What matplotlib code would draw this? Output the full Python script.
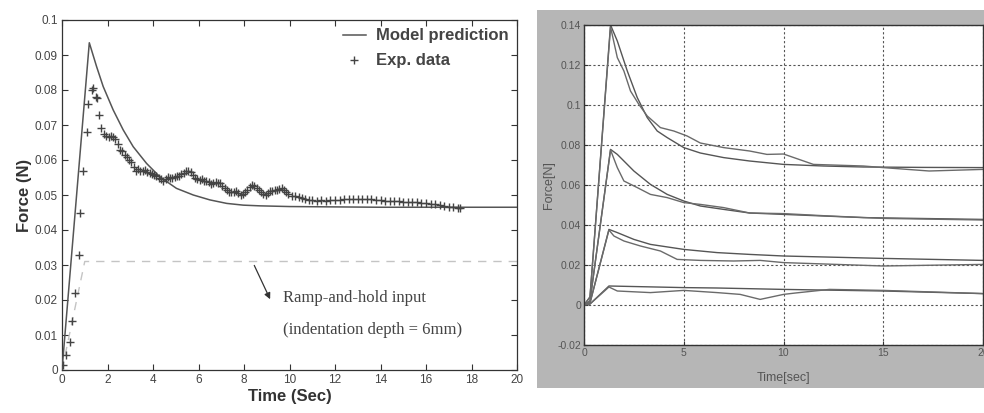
import matplotlib
matplotlib.use("Agg")
import matplotlib.pyplot as plt
from matplotlib.patches import Rectangle

# ---------------- Left panel data ----------------
model_t = [0, 1.2, 1.52, 1.81, 2.25, 2.69, 3.13, 3.72, 4.3, 5.03, 5.77, 6.5, 7.24, 7.97, 8.7, 10, 12, 14, 16, 18, 20]
model_f = [0, 0.0935, 0.0867, 0.081, 0.0743, 0.0686, 0.0638, 0.059, 0.0552, 0.0519, 0.0500, 0.0486, 0.0476,
           0.0471, 0.0469, 0.0467, 0.0466, 0.0465, 0.0465, 0.0465, 0.0465]

exp_t = [0.04, 0.19, 0.34, 0.45, 0.56, 0.73, 0.79, 0.94, 1.10, 1.16, 1.32, 1.38, 1.50, 1.56, 1.63, 1.73,
         1.85, 1.95, 2.05, 2.15, 2.25, 2.35, 2.45, 2.55, 2.65, 2.75, 2.85, 2.95, 3.05, 3.15, 3.25, 3.35,
         3.45, 3.55, 3.65, 3.75, 3.85, 3.95, 4.05, 4.15, 4.25, 4.35, 4.45, 4.55, 4.65, 4.75, 4.85, 4.95,
         5.05, 5.15, 5.25, 5.35, 5.45, 5.55, 5.65, 5.75, 5.85, 5.95, 6.05, 6.15, 6.25, 6.35, 6.45, 6.55,
         6.65, 6.75, 6.85, 6.95, 7.05, 7.15, 7.25, 7.35, 7.45, 7.55, 7.65, 7.75, 7.85, 7.95, 8.05, 8.15,
         8.25, 8.35, 8.45, 8.55, 8.65, 8.75, 8.85, 8.95, 9.05, 9.15, 9.25, 9.35, 9.45, 9.55, 9.65, 9.75,
         9.85, 9.95, 10.1, 10.25, 10.4, 10.55, 10.7, 10.85, 11.0, 11.2, 11.4, 11.6, 11.8, 12.0, 12.2, 12.4,
         12.6, 12.8, 13.0, 13.2, 13.4, 13.6, 13.8, 14.0, 14.2, 14.4, 14.6, 14.8, 15.0, 15.2, 15.4, 15.6,
         15.8, 16.0, 16.2, 16.4, 16.6, 16.8, 17.0, 17.2, 17.4, 17.5]
exp_f = [0.0014, 0.0043, 0.0079, 0.014, 0.022, 0.033, 0.045, 0.057, 0.068, 0.076, 0.080, 0.0806, 0.078, 0.0777, 0.073, 0.069,
         0.0675, 0.0668, 0.0665, 0.067, 0.0665, 0.066, 0.0645, 0.063, 0.0625, 0.0615, 0.061, 0.060, 0.0595, 0.058, 0.057, 0.0575,
         0.057, 0.0568, 0.0572, 0.0565, 0.0563, 0.056, 0.0558, 0.0555, 0.055, 0.0545, 0.054, 0.0545, 0.0552, 0.055, 0.0548, 0.0552,
         0.0553, 0.0555, 0.056, 0.0563, 0.0568, 0.057, 0.0565, 0.0558, 0.055, 0.0547, 0.0544, 0.0545, 0.054, 0.0539, 0.0537, 0.0532,
         0.0534, 0.0536, 0.0533, 0.0534, 0.0525, 0.052, 0.0515, 0.051, 0.0508, 0.051, 0.0511, 0.0505, 0.0501, 0.0503, 0.0508, 0.0515,
         0.0522, 0.053, 0.0527, 0.052, 0.0515, 0.051, 0.0503, 0.0501, 0.0506, 0.0511, 0.0512, 0.0514, 0.0515, 0.0518, 0.052, 0.0515,
         0.0509, 0.0503, 0.0498, 0.0496, 0.0493, 0.0491, 0.0488, 0.0487, 0.0485, 0.0484, 0.0485, 0.0484, 0.0485, 0.0486, 0.0487, 0.0488,
         0.0489, 0.049, 0.049, 0.0489, 0.049, 0.0488, 0.0487, 0.0485, 0.0484, 0.0483, 0.0483, 0.0482, 0.0481, 0.048, 0.0479, 0.0479,
         0.0477, 0.0476, 0.0475, 0.0473, 0.0471, 0.0469, 0.0467, 0.0465, 0.0463, 0.0462]

input_t = [0, 1.0, 20.0]
input_f = [0, 0.031, 0.031]

left_xticks = [0, 2, 4, 6, 8, 10, 12, 14, 16, 18, 20]
left_yticks = [0, 0.01, 0.02, 0.03, 0.04, 0.05, 0.06, 0.07, 0.08, 0.09, 0.1]
left_yticklabels = ["0", "0.01", "0.02", "0.03", "0.04", "0.05", "0.06", "0.07", "0.08", "0.09", "0.1"]

# ---------------- Right panel data ----------------
r1_model_t = [0, 0.3, 1.33, 1.67, 2.17, 2.67, 3.17, 3.67, 4.17, 5.0, 5.83, 7.0, 8.3, 10, 12, 14, 17, 20]
r1_model_f = [0, 0.004, 0.140, 0.132, 0.117, 0.1037, 0.0937, 0.087, 0.0837, 0.0787, 0.076, 0.0737, 0.072,
              0.0703, 0.0695, 0.069, 0.0688, 0.0687]
r1_exp_t = [0, 0.3, 1.33, 1.67, 2.0, 2.33, 2.75, 3.17, 3.83, 4.5, 5.17, 5.83, 7.0, 8.3, 9.17, 10.0, 11.5,
            14.0, 15.0, 17.3, 20.0]
r1_exp_f = [0, 0.004, 0.139, 0.1237, 0.117, 0.107, 0.1003, 0.0945, 0.0887, 0.087, 0.0845, 0.081, 0.0787,
            0.077, 0.0753, 0.0755, 0.0703, 0.0695, 0.0687, 0.067, 0.0678]

r2_model_t = [0, 0.3, 1.33, 1.67, 2.5, 3.33, 4.17, 5.0, 5.83, 7.0, 8.3, 10, 14, 20]
r2_model_f = [0, 0.002, 0.0778, 0.0753, 0.067, 0.0603, 0.0553, 0.052, 0.0495, 0.0478, 0.046, 0.0453, 0.0437, 0.0428]
r2_exp_t = [0, 0.3, 1.33, 1.67, 2.0, 2.67, 3.33, 4.17, 5.0, 5.83, 7.0, 8.3, 10, 12.3, 15, 20]
r2_exp_f = [0, 0.002, 0.0775, 0.0687, 0.062, 0.0587, 0.0553, 0.0537, 0.0512, 0.0503, 0.0487, 0.046, 0.0457,
            0.0445, 0.0433, 0.0425]

r3_model_t = [0, 0.3, 1.25, 1.67, 2.5, 3.33, 5.0, 6.67, 8.3, 10, 15, 20]
r3_model_f = [0, 0.001, 0.0378, 0.0362, 0.0328, 0.0303, 0.0278, 0.0262, 0.0253, 0.0245, 0.0233, 0.0223]
r3_exp_t = [0, 0.3, 1.25, 1.5, 2.0, 2.83, 3.83, 4.67, 5.83, 7.5, 8.83, 10, 15, 20]
r3_exp_f = [0, 0.001, 0.0375, 0.0345, 0.032, 0.0295, 0.027, 0.0228, 0.0223, 0.022, 0.0223, 0.0212, 0.0195, 0.0203]

r4_model_t = [0, 0.3, 1.25, 5.0, 6.67, 10, 15, 20]
r4_model_f = [0, 0.0005, 0.0095, 0.0087, 0.0085, 0.0078, 0.007, 0.0057]
r4_exp_t = [0, 0.3, 1.25, 1.67, 3.33, 5.0, 6.67, 7.83, 8.83, 10, 10.6, 12.3, 15, 20]
r4_exp_f = [0, 0.0005, 0.009, 0.007, 0.0062, 0.0073, 0.0062, 0.0053, 0.0028, 0.0053, 0.006, 0.0078, 0.0073, 0.0057]

right_xticks = [0, 5, 10, 15, 20]
right_yticks = [-0.02, 0, 0.02, 0.04, 0.06, 0.08, 0.1, 0.12, 0.14]
right_yticklabels = ["-0.02", "0", "0.02", "0.04", "0.06", "0.08", "0.1", "0.12", "0.14"]

# ---------------- Figure ----------------
W, H = 984, 413
fig = plt.figure(figsize=(W / 100, H / 100), dpi=100)
fig.patch.set_facecolor("white")

sans = ["Liberation Sans", "DejaVu Sans"]
serif = ["Liberation Serif", "DejaVu Serif"]

# Left axes
axL = fig.add_axes([62 / W, 1 - 370 / H, (517 - 62) / W, (370 - 20) / H])
axL.plot(input_t, input_f, color="#c4c4c4", lw=1.0, ls=(0, (6, 5)), zorder=1)
axL.plot(model_t, model_f, color="#555555", lw=1.1, label="Model prediction", zorder=3)
axL.plot(exp_t, exp_f, ls="none", marker="+", ms=6, mew=1.0, color="#444444", label="Exp. data", zorder=4)
axL.set_xlim(0, 20)
axL.set_ylim(0, 0.1)
axL.set_xticks(left_xticks)
axL.set_yticks(left_yticks)
axL.set_yticklabels(left_yticklabels)
axL.tick_params(direction="in", top=True, right=True, length=4, width=0.8, colors="#333333",
                labelsize=8.5, pad=3)
for lab in axL.get_xticklabels() + axL.get_yticklabels():
    lab.set_family(sans)
    lab.set_color("#444444")
for sp in axL.spines.values():
    sp.set_color("#333333")
    sp.set_linewidth(0.9)
axL.set_xlabel("Time (Sec)", family=sans, fontsize=12, fontweight="bold", color="#333333", labelpad=2)
axL.set_ylabel("Force (N)", family=sans, fontsize=12, fontweight="bold", color="#333333", labelpad=2)
leg = axL.legend(loc="upper right", frameon=False, prop={"family": sans, "size": 12, "weight": "bold"},
                 handlelength=1.4, handletextpad=0.6, labelspacing=0.6, borderaxespad=0.1)
for t in leg.get_texts():
    t.set_color("#444444")

axL.annotate("", xy=(9.2, 0.0195), xytext=(8.4, 0.0306),
             arrowprops=dict(arrowstyle="-|>", color="#333333", lw=0.9, mutation_scale=9))
axL.text(9.7, 0.0205, "Ramp-and-hold input", family=serif, fontsize=12, color="#444444", va="center")
axL.text(9.7, 0.0113, "(indentation depth = 6mm)", family=serif, fontsize=12, color="#444444", va="center")

# Right panel gray background
fig.patches.append(Rectangle((537 / W, 1 - 388 / H), (984 - 537) / W, (388 - 10) / H,
                             transform=fig.transFigure, facecolor="#b6b6b6", edgecolor="none", zorder=0))

axR = fig.add_axes([584 / W, 1 - 345 / H, (983 - 584) / W, (345 - 25) / H])
axR.set_facecolor("white")
axR.set_zorder(2)
axR.grid(True, ls=(0, (2, 2)), color="#555555", lw=0.8)
axR.set_axisbelow(True)
for tt, ff in [(r1_model_t, r1_model_f), (r2_model_t, r2_model_f), (r3_model_t, r3_model_f), (r4_model_t, r4_model_f)]:
    axR.plot(tt, ff, color="#555555", lw=1.0)
for tt, ff in [(r1_exp_t, r1_exp_f), (r2_exp_t, r2_exp_f), (r3_exp_t, r3_exp_f), (r4_exp_t, r4_exp_f)]:
    axR.plot(tt, ff, color="#6a6a6a", lw=1.0)
axR.set_xlim(0, 20)
axR.set_ylim(-0.02, 0.14)
axR.set_xticks(right_xticks)
axR.set_yticks(right_yticks)
axR.set_yticklabels(right_yticklabels)
axR.tick_params(direction="in", length=3, width=0.8, colors="#333333", labelsize=7.5, pad=2)
for lab in axR.get_xticklabels() + axR.get_yticklabels():
    lab.set_family(sans)
    lab.set_color("#555555")
for sp in axR.spines.values():
    sp.set_color("#333333")
    sp.set_linewidth(1.0)
axR.set_xlabel("Time[sec]", family=sans, fontsize=9, color="#555555", labelpad=10)
axR.set_ylabel("Force[N]", family=sans, fontsize=9, color="#555555", labelpad=2)

fig.savefig("out.png", dpi=100)
